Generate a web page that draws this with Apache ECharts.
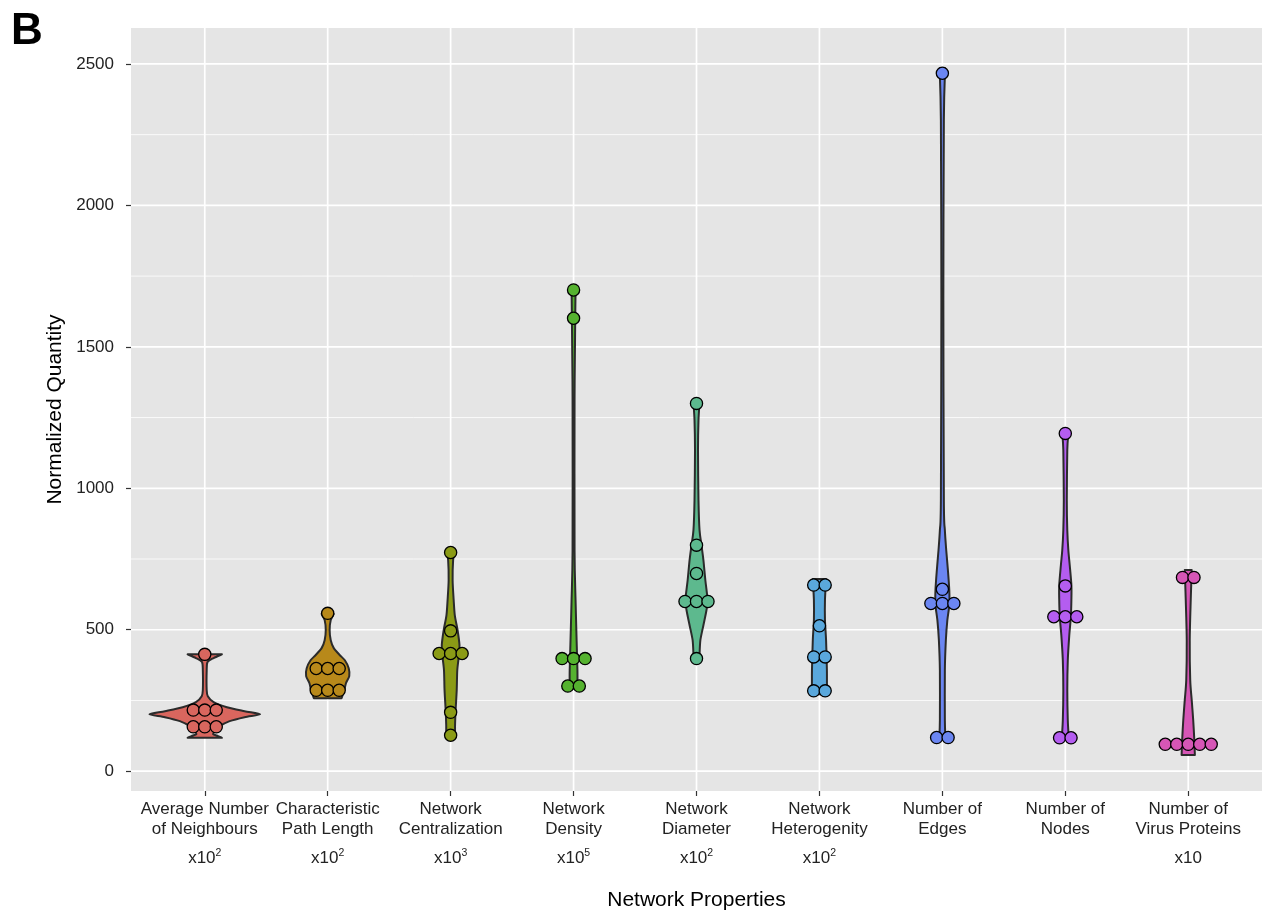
<!DOCTYPE html>
<html>
<head>
<meta charset="utf-8">
<title>Network Properties</title>
<script src="https://cdn.jsdelivr.net/npm/echarts@6/dist/echarts.min.js"></script>
<style>
    html, body { margin: 0; padding: 0; background: #ffffff; }
    #chart { width: 1266px; height: 911px; }
</style>
</head>
<body>
<div id="chart"></div>
<script>
// x axis: one violin per network property
var categories = [
    'Average Number\nof Neighbours',
    'Characteristic\nPath Length',
    'Network\nCentralization',
    'Network\nDensity',
    'Network\nDiameter',
    'Network\nHeterogenity',
    'Number of\nEdges',
    'Number of\nNodes',
    'Number of\nVirus Proteins'
];
// power of ten each property was multiplied by (0 = not scaled)
var exponents = [2, 2, 3, 5, 2, 2, 0, 0, 1];

// y axis
var yLimits = [-70, 2627];
var yMajor = [0, 500, 1000, 1500, 2000, 2500];
var yMinor = [250, 750, 1250, 1750, 2250];

// violin outlines: [value, relative width 0..1]
var violins = [
    [[413, 0.31], [400, 0.16], [386, 0.05], [357, 0.035], [286, 0.035], [265, 0.055], [244, 0.16], [226, 0.40],
     [212, 0.72], [201, 1.0], [191, 0.72], [177, 0.45], [159, 0.27], [141, 0.18], [131, 0.15], [124, 0.24], [118, 0.31]],
    [[556, 0.11], [534, 0.055], [499, 0.035], [463, 0.055], [435, 0.11], [410, 0.22], [392, 0.31], [364, 0.38],
     [336, 0.39], [311, 0.33], [286, 0.30], [258, 0.25]],
    [[773, 0.07], [746, 0.045], [675, 0.036], [605, 0.055], [552, 0.075], [499, 0.125], [446, 0.16], [410, 0.15],
     [357, 0.12], [286, 0.11], [216, 0.09], [163, 0.08], [124, 0.08]],
    [[1701, 0.036], [1601, 0.03], [1312, 0.018], [781, 0.018], [605, 0.036], [463, 0.055], [357, 0.07], [293, 0.07]],
    [[1301, 0.055], [1241, 0.036], [1135, 0.027], [958, 0.036], [852, 0.055], [799, 0.09], [746, 0.125], [675, 0.16],
     [605, 0.2], [569, 0.18], [516, 0.125], [463, 0.07], [410, 0.055], [399, 0.055]],
    [[679, 0.12], [605, 0.10], [534, 0.10], [463, 0.12], [357, 0.135], [272, 0.135]],
    [[2485, 0.05], [2302, 0.027], [1665, 0.018], [958, 0.027], [852, 0.045], [781, 0.07], [711, 0.10], [640, 0.125],
     [587, 0.125], [534, 0.09], [463, 0.063], [357, 0.045], [180, 0.045], [117, 0.055]],
    [[1195, 0.055], [1135, 0.036], [958, 0.027], [852, 0.036], [781, 0.055], [728, 0.08], [658, 0.11], [605, 0.11],
     [545, 0.10], [481, 0.072], [392, 0.045], [286, 0.036], [180, 0.045], [117, 0.063]],
    [[711, 0.063], [605, 0.045], [463, 0.027], [322, 0.036], [251, 0.063], [180, 0.09], [110, 0.11], [57, 0.12]]
];

// dot plot rows: [value, number of dots stacked side by side]
var dots = [
    [[413, 1], [216, 3], [157, 3]],
    [[558, 1], [363, 3], [286, 3]],
    [[773, 1], [496, 1], [416, 3], [208, 1], [127, 1]],
    [[1701, 1], [1601, 1], [398, 3], [301, 2]],
    [[1300, 1], [799, 1], [699, 1], [600, 3], [398, 1]],
    [[658, 2], [514, 1], [404, 2], [284, 2]],
    [[2467, 1], [643, 1], [593, 3], [119, 2]],
    [[1194, 1], [655, 1], [546, 3], [118, 2]],
    [[685, 2], [95, 5]]
];

var colors = ['#d9665e', '#b8891a', '#8b9b16', '#55b22f', '#5db98e', '#5aa8dc', '#6b86f2', '#b45df0', '#d656b6'];

var FONT = 'Liberation Sans, Arial, sans-serif';
var TEXT = '#222222';
var HALF = 0.45;        // half of the violin width, in category units
var DOT_STEP = 0.0935;  // horizontal distance between stacked dots

var positions = categories.map(function (c, i) { return i + 1; });

function labelFor(value) {
    var i = Math.round(value) - 1;
    if (i < 0 || i >= categories.length) return '';
    var text = categories[i];
    var e = exponents[i];
    if (e === 1) text += '\n{m|x10}';
    else if (e > 1) text += '\n{m|x10}{s|' + e + '}';
    return text;
}

// smooth curve through pixel points (catmull-rom turned into cubic beziers)
function curveTo(p) {
    var d = '';
    for (var k = 0; k < p.length - 1; k++) {
        var p0 = p[Math.max(k - 1, 0)], p1 = p[k], p2 = p[k + 1], p3 = p[Math.min(k + 2, p.length - 1)];
        var t = 0.8 / 6;
        d += ' C' + (p1[0] + (p2[0] - p0[0]) * t) + ',' + (p1[1] + (p2[1] - p0[1]) * t) +
            ' ' + (p2[0] - (p3[0] - p1[0]) * t) + ',' + (p2[1] - (p3[1] - p1[1]) * t) +
            ' ' + p2[0] + ',' + p2[1];
    }
    return d;
}

// grid lines as data: [axis, value, major?]
var gridData = [];
yMajor.forEach(function (v) { gridData.push(['y', v, 1]); });
yMinor.forEach(function (v) { gridData.push(['y', v, 0]); });
positions.forEach(function (v) { gridData.push(['x', v, 1]); });

var dotData = [];
dots.forEach(function (rows, i) {
    rows.forEach(function (r) {
        for (var k = 0; k < r[1]; k++) {
            dotData.push({
                value: [i + 1 + (k - (r[1] - 1) / 2) * DOT_STEP, r[0]],
                itemStyle: {color: colors[i]}
            });
        }
    });
});

var myChart = echarts.init(document.getElementById('chart'));

var option = {
    animation: false,
    backgroundColor: '#ffffff',
    graphic: [{
        type: 'text',
        left: 11,
        top: 10,
        style: {text: 'B', font: 'bold 44px ' + FONT, fill: '#000'}
    }],
    grid: {
        left: 131, right: 4, top: 28, bottom: 120,
        outerBoundsMode: 'none',
        containLabel: false,
        show: true, backgroundColor: '#e5e5e5', borderWidth: 0
    },
    xAxis: {
        type: 'value',
        min: 0.4,
        max: 9.6,
        name: 'Network Properties',
        nameLocation: 'middle',
        nameGap: 99,
        nameTextStyle: {fontSize: 21, color: '#000', fontFamily: FONT},
        axisLine: {show: false, onZero: false},
        axisTick: {show: true, customValues: positions, length: 5, lineStyle: {color: '#333', width: 1.2}},
        splitLine: {show: false},
        axisLabel: {
            customValues: positions,
            formatter: labelFor,
            color: TEXT,
            fontSize: 17,
            fontFamily: FONT,
            lineHeight: 20,
            margin: 8,
            rich: {
                m: {fontSize: 17, lineHeight: 38, color: TEXT, fontFamily: FONT},
                s: {fontSize: 10.5, verticalAlign: 'top', padding: [9, 0, 0, 0], color: TEXT, fontFamily: FONT}
            }
        }
    },
    yAxis: {
        type: 'value',
        min: yLimits[0],
        max: yLimits[1],
        name: 'Normalized Quantity',
        nameLocation: 'middle',
        nameGap: 47,
        nameTextStyle: {fontSize: 21, color: '#000', fontFamily: FONT},
        axisLine: {show: false, onZero: false},
        axisTick: {show: true, customValues: yMajor, length: 5, lineStyle: {color: '#333', width: 1.2}},
        splitLine: {show: false},
        axisLabel: {
            customValues: yMajor,
            formatter: function (v) { return String(v); },
            color: TEXT, fontSize: 17, fontFamily: FONT, margin: 17
        }
    },
    series: [
        {
            // white panel grid
            type: 'custom',
            z: 1,
            silent: true,
            data: gridData.map(function (g, i) { return [i]; }),
            renderItem: function (params, api) {
                var g = gridData[params.dataIndex];
                var a, b;
                if (g[0] === 'y') {
                    a = api.coord([0.4, g[1]]);
                    b = api.coord([9.6, g[1]]);
                } else {
                    a = api.coord([g[1], yLimits[0]]);
                    b = api.coord([g[1], yLimits[1]]);
                }
                return {
                    type: 'line',
                    shape: {x1: a[0], y1: a[1], x2: b[0], y2: b[1]},
                    style: {stroke: '#ffffff', lineWidth: g[2] ? 1.7 : 0.8}
                };
            }
        },
        {
            type: 'custom',
            z: 2,
            silent: true,
            data: violins.map(function (p, i) { return [i + 1, p[0][0]]; }),
            renderItem: function (params, api) {
                var i = params.dataIndex;
                var prof = violins[i];
                var right = prof.map(function (p) { return api.coord([i + 1 + p[1] * HALF, p[0]]); });
                var left = prof.map(function (p) { return api.coord([i + 1 - p[1] * HALF, p[0]]); }).reverse();
                var d = 'M' + right[0][0] + ',' + right[0][1] + curveTo(right) +
                    ' L' + left[0][0] + ',' + left[0][1] + curveTo(left) + ' Z';
                return {
                    type: 'path',
                    shape: {pathData: d},
                    style: {fill: colors[i], stroke: '#2b2b2b', lineWidth: 2, lineJoin: 'round'}
                };
            }
        },
        {
            type: 'scatter',
            z: 3,
            silent: true,
            symbolSize: 12.2,
            itemStyle: {borderColor: '#000', borderWidth: 1.3, opacity: 1},
            data: dotData
        }
    ]
};

myChart.setOption(option);
</script>
</body>
</html>
